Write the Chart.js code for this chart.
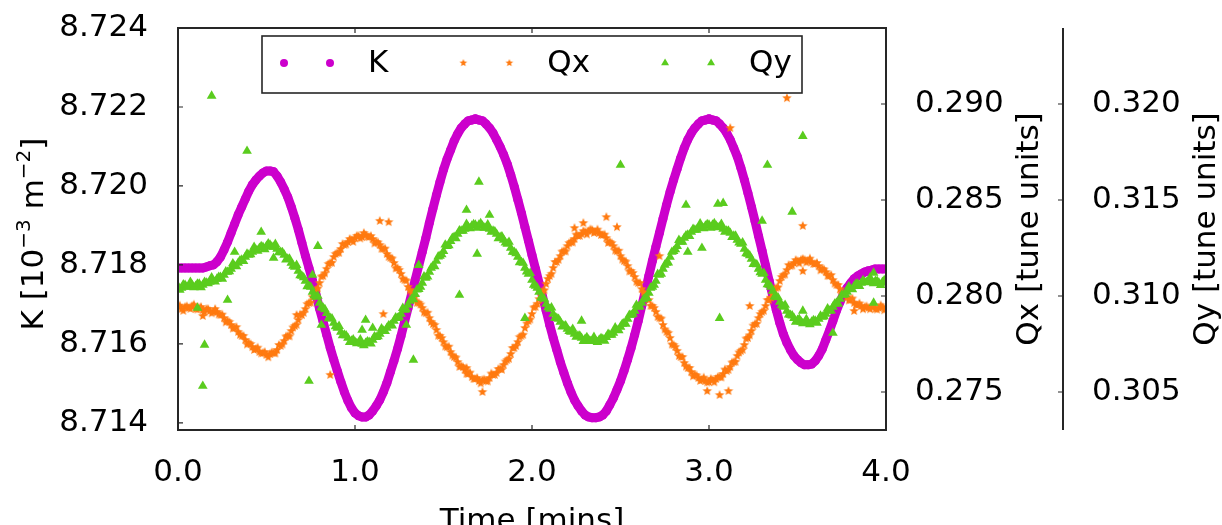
<!DOCTYPE html>
<html lang="en">
<head>
<meta charset="UTF-8">
<title>K, Qx and Qy against time</title>
<style>
  html, body { margin: 0; padding: 0; background: #fff; }
  #wrap { width: 1222px; height: 525px; position: relative; }
</style>
</head>
<body>
<div id="wrap"><canvas id="chart"></canvas></div>
<script src="https://cdn.jsdelivr.net/npm/chart.js@4.4.1/dist/chart.umd.min.js"></script>
<script>
// sample times [mins], one reading every 0.02 min
const times = [
  0.00, 0.02, 0.04, 0.06, 0.08, 0.10, 0.12, 0.14, 0.16, 0.18,
  0.20, 0.22, 0.24, 0.26, 0.28, 0.30, 0.32, 0.34, 0.36, 0.38,
  0.40, 0.42, 0.44, 0.46, 0.48, 0.50, 0.52, 0.54, 0.56, 0.58,
  0.60, 0.62, 0.64, 0.66, 0.68, 0.70, 0.72, 0.74, 0.76, 0.78,
  0.80, 0.82, 0.84, 0.86, 0.88, 0.90, 0.92, 0.94, 0.96, 0.98,
  1.00, 1.02, 1.04, 1.06, 1.08, 1.10, 1.12, 1.14, 1.16, 1.18,
  1.20, 1.22, 1.24, 1.26, 1.28, 1.30, 1.32, 1.34, 1.36, 1.38,
  1.40, 1.42, 1.44, 1.46, 1.48, 1.50, 1.52, 1.54, 1.56, 1.58,
  1.60, 1.62, 1.64, 1.66, 1.68, 1.70, 1.72, 1.74, 1.76, 1.78,
  1.80, 1.82, 1.84, 1.86, 1.88, 1.90, 1.92, 1.94, 1.96, 1.98,
  2.00, 2.02, 2.04, 2.06, 2.08, 2.10, 2.12, 2.14, 2.16, 2.18,
  2.20, 2.22, 2.24, 2.26, 2.28, 2.30, 2.32, 2.34, 2.36, 2.38,
  2.40, 2.42, 2.44, 2.46, 2.48, 2.50, 2.52, 2.54, 2.56, 2.58,
  2.60, 2.62, 2.64, 2.66, 2.68, 2.70, 2.72, 2.74, 2.76, 2.78,
  2.80, 2.82, 2.84, 2.86, 2.88, 2.90, 2.92, 2.94, 2.96, 2.98,
  3.00, 3.02, 3.04, 3.06, 3.08, 3.10, 3.12, 3.14, 3.16, 3.18,
  3.20, 3.22, 3.24, 3.26, 3.28, 3.30, 3.32, 3.34, 3.36, 3.38,
  3.40, 3.42, 3.44, 3.46, 3.48, 3.50, 3.52, 3.54, 3.56, 3.58,
  3.60, 3.62, 3.64, 3.66, 3.68, 3.70, 3.72, 3.74, 3.76, 3.78,
  3.80, 3.82, 3.84, 3.86, 3.88, 3.90, 3.92, 3.94, 3.96, 3.98,
  4.00
];

// tune readings taken in between, at 0.01, 0.03, ... 3.99 min
const midTimes = [
  0.01, 0.03, 0.05, 0.07, 0.09, 0.11, 0.13, 0.15, 0.17, 0.19,
  0.21, 0.23, 0.25, 0.27, 0.29, 0.31, 0.33, 0.35, 0.37, 0.39,
  0.41, 0.43, 0.45, 0.47, 0.49, 0.51, 0.53, 0.55, 0.57, 0.59,
  0.61, 0.63, 0.65, 0.67, 0.69, 0.71, 0.73, 0.75, 0.77, 0.79,
  0.81, 0.83, 0.85, 0.87, 0.89, 0.91, 0.93, 0.95, 0.97, 0.99,
  1.01, 1.03, 1.05, 1.07, 1.09, 1.11, 1.13, 1.15, 1.17, 1.19,
  1.21, 1.23, 1.25, 1.27, 1.29, 1.31, 1.33, 1.35, 1.37, 1.39,
  1.41, 1.43, 1.45, 1.47, 1.49, 1.51, 1.53, 1.55, 1.57, 1.59,
  1.61, 1.63, 1.65, 1.67, 1.69, 1.71, 1.73, 1.75, 1.77, 1.79,
  1.81, 1.83, 1.85, 1.87, 1.89, 1.91, 1.93, 1.95, 1.97, 1.99,
  2.01, 2.03, 2.05, 2.07, 2.09, 2.11, 2.13, 2.15, 2.17, 2.19,
  2.21, 2.23, 2.25, 2.27, 2.29, 2.31, 2.33, 2.35, 2.37, 2.39,
  2.41, 2.43, 2.45, 2.47, 2.49, 2.51, 2.53, 2.55, 2.57, 2.59,
  2.61, 2.63, 2.65, 2.67, 2.69, 2.71, 2.73, 2.75, 2.77, 2.79,
  2.81, 2.83, 2.85, 2.87, 2.89, 2.91, 2.93, 2.95, 2.97, 2.99,
  3.01, 3.03, 3.05, 3.07, 3.09, 3.11, 3.13, 3.15, 3.17, 3.19,
  3.21, 3.23, 3.25, 3.27, 3.29, 3.31, 3.33, 3.35, 3.37, 3.39,
  3.41, 3.43, 3.45, 3.47, 3.49, 3.51, 3.53, 3.55, 3.57, 3.59,
  3.61, 3.63, 3.65, 3.67, 3.69, 3.71, 3.73, 3.75, 3.77, 3.79,
  3.81, 3.83, 3.85, 3.87, 3.89, 3.91, 3.93, 3.95, 3.97, 3.99
];

// K [1e-3 m^-2]
const kValues = [
  8.71792, 8.71792, 8.71792, 8.71792, 8.71792, 8.71792, 8.71792, 8.71792, 8.71795, 8.71798,
  8.71800, 8.71808, 8.71820, 8.71838, 8.71858, 8.71881, 8.71904, 8.71927, 8.71947, 8.71967,
  8.71987, 8.72003, 8.72015, 8.72025, 8.72033, 8.72038, 8.72038, 8.72036, 8.72025, 8.72010,
  8.71992, 8.71972, 8.71947, 8.71919, 8.71889, 8.71856, 8.71823, 8.71792, 8.71760, 8.71724,
  8.71689, 8.71656, 8.71623, 8.71590, 8.71560, 8.71532, 8.71504, 8.71478, 8.71456, 8.71438,
  8.71425, 8.71418, 8.71415, 8.71415, 8.71420, 8.71430, 8.71443, 8.71458, 8.71478, 8.71501,
  8.71529, 8.71557, 8.71587, 8.71620, 8.71656, 8.71691, 8.71727, 8.71762, 8.71798, 8.71833,
  8.71868, 8.71906, 8.71942, 8.71977, 8.72010, 8.72041, 8.72068, 8.72091, 8.72114, 8.72132,
  8.72147, 8.72157, 8.72165, 8.72167, 8.72170, 8.72167, 8.72165, 8.72157, 8.72147, 8.72134,
  8.72117, 8.72099, 8.72079, 8.72056, 8.72028, 8.71998, 8.71965, 8.71932, 8.71896, 8.71861,
  8.71825, 8.71790, 8.71754, 8.71719, 8.71684, 8.71648, 8.71615, 8.71585, 8.71554, 8.71527,
  8.71501, 8.71478, 8.71458, 8.71443, 8.71430, 8.71420, 8.71415, 8.71413, 8.71413, 8.71415,
  8.71420, 8.71430, 8.71446, 8.71463, 8.71484, 8.71506, 8.71532, 8.71560, 8.71590, 8.71623,
  8.71658, 8.71696, 8.71734, 8.71772, 8.71810, 8.71846, 8.71881, 8.71917, 8.71952, 8.71985,
  8.72015, 8.72043, 8.72071, 8.72096, 8.72117, 8.72134, 8.72147, 8.72157, 8.72165, 8.72167,
  8.72170, 8.72167, 8.72165, 8.72157, 8.72147, 8.72134, 8.72117, 8.72096, 8.72074, 8.72046,
  8.72015, 8.71982, 8.71947, 8.71911, 8.71873, 8.71836, 8.71798, 8.71760, 8.71722, 8.71686,
  8.71653, 8.71625, 8.71603, 8.71585, 8.71570, 8.71560, 8.71552, 8.71547, 8.71547, 8.71549,
  8.71557, 8.71570, 8.71587, 8.71610, 8.71633, 8.71658, 8.71684, 8.71706, 8.71727, 8.71742,
  8.71754, 8.71765, 8.71772, 8.71777, 8.71782, 8.71785, 8.71787, 8.71790, 8.71790, 8.71790,
  8.71790
];

// horizontal tune at `times`
const qxValues = [
  0.27948, 0.27932, 0.27943, 0.27938, 0.27948, 0.27932, 0.27938, 0.27927, 0.27932, 0.27922,
  0.27917, 0.27917, 0.27901, 0.27885, 0.27870, 0.27849, 0.27833, 0.27813, 0.27792, 0.27771,
  0.27755, 0.27734, 0.27724, 0.27708, 0.27703, 0.27693, 0.27698, 0.27703, 0.27719, 0.27740,
  0.27766, 0.27792, 0.27818, 0.27844, 0.27875, 0.27901, 0.27932, 0.27964, 0.27995, 0.28031,
  0.28068, 0.28104, 0.28141, 0.28172, 0.28203, 0.28224, 0.28245, 0.28266, 0.28281, 0.28292,
  0.28302, 0.28313, 0.28307, 0.28318, 0.28307, 0.28297, 0.28281, 0.28266, 0.28245, 0.28219,
  0.28198, 0.28172, 0.28146, 0.28115, 0.28083, 0.28047, 0.28021, 0.27995, 0.27964, 0.27938,
  0.27911, 0.27885, 0.27854, 0.27823, 0.27792, 0.27760, 0.27734, 0.27708, 0.27682, 0.27656,
  0.27635, 0.27615, 0.27594, 0.27578, 0.27568, 0.27557, 0.27563, 0.27557, 0.27573, 0.27589,
  0.27599, 0.27620, 0.27641, 0.27667, 0.27698, 0.27729, 0.27760, 0.27792, 0.27833, 0.27870,
  0.27906, 0.27943, 0.27984, 0.28026, 0.28063, 0.28104, 0.28146, 0.28177, 0.28208, 0.28234,
  0.28260, 0.28281, 0.28297, 0.28313, 0.28323, 0.28333, 0.28339, 0.28344, 0.28333, 0.28328,
  0.28318, 0.28302, 0.28281, 0.28260, 0.28234, 0.28208, 0.28182, 0.28156, 0.28130, 0.28099,
  0.28068, 0.28036, 0.28010, 0.27979, 0.27948, 0.27917, 0.27885, 0.27849, 0.27813, 0.27781,
  0.27745, 0.27714, 0.27682, 0.27651, 0.27625, 0.27604, 0.27589, 0.27573, 0.27563, 0.27557,
  0.27552, 0.27563, 0.27568, 0.27578, 0.27594, 0.27609, 0.27630, 0.27656, 0.27688, 0.27714,
  0.27745, 0.27781, 0.27818, 0.27854, 0.27885, 0.27917, 0.27948, 0.27979, 0.28010, 0.28042,
  0.28078, 0.28109, 0.28135, 0.28156, 0.28172, 0.28182, 0.28188, 0.28188, 0.28182, 0.28177,
  0.28167, 0.28156, 0.28141, 0.28125, 0.28104, 0.28083, 0.28057, 0.28036, 0.28016, 0.27995,
  0.27979, 0.27964, 0.27953, 0.27948, 0.27943, 0.27938, 0.27943, 0.27932, 0.27938, 0.27943,
  0.27938
];

// horizontal tune at `midTimes`
const qxMidValues = [
  0.27950, 0.27923, 0.27946, 0.27933, 0.27955, 0.27930, 0.27943, 0.27915, 0.27932, 0.27910,
  0.27932, 0.27904, 0.27903, 0.27863, 0.27865, 0.27831, 0.27838, 0.27798, 0.27792, 0.27748,
  0.27750, 0.27719, 0.27731, 0.27701, 0.27708, 0.27681, 0.27706, 0.27701, 0.27745, 0.27748,
  0.27789, 0.27790, 0.27836, 0.27850, 0.27903, 0.27912, 0.27958, 0.27965, 0.28018, 0.28040,
  0.28101, 0.28118, 0.28167, 0.28173, 0.28219, 0.28225, 0.28271, 0.28269, 0.28297, 0.28282,
  0.28313, 0.28300, 0.28328, 0.28308, 0.28312, 0.28274, 0.28279, 0.28246, 0.28247, 0.28204,
  0.28195, 0.28144, 0.28136, 0.28089, 0.28080, 0.28029, 0.28018, 0.27965, 0.27956, 0.27915,
  0.27913, 0.27865, 0.27849, 0.27793, 0.27781, 0.27737, 0.27736, 0.27690, 0.27679, 0.27631,
  0.27630, 0.27595, 0.27601, 0.27568, 0.27573, 0.27545, 0.27565, 0.27555, 0.27596, 0.27589,
  0.27620, 0.27616, 0.27659, 0.27673, 0.27729, 0.27740, 0.27786, 0.27798, 0.27857, 0.27878,
  0.27940, 0.27959, 0.28015, 0.28030, 0.28089, 0.28115, 0.28177, 0.28188, 0.28231, 0.28232,
  0.28276, 0.28279, 0.28320, 0.28313, 0.28338, 0.28321, 0.28347, 0.28329, 0.28346, 0.28318,
  0.28320, 0.28277, 0.28276, 0.28237, 0.28236, 0.28190, 0.28179, 0.28128, 0.28120, 0.28074,
  0.28067, 0.28018, 0.28005, 0.27949, 0.27938, 0.27891, 0.27882, 0.27826, 0.27807, 0.27748,
  0.27735, 0.27688, 0.27682, 0.27633, 0.27625, 0.27582, 0.27586, 0.27558, 0.27575, 0.27550,
  0.27568, 0.27551, 0.27578, 0.27576, 0.27617, 0.27615, 0.27653, 0.27657, 0.27706, 0.27720,
  0.27778, 0.27795, 0.27846, 0.27855, 0.27906, 0.27923, 0.27979, 0.27990, 0.28036, 0.28045,
  0.28099, 0.28112, 0.28161, 0.28159, 0.28187, 0.28170, 0.28193, 0.28175, 0.28195, 0.28167,
  0.28172, 0.28134, 0.28138, 0.28105, 0.28109, 0.28065, 0.28057, 0.28011, 0.28011, 0.27977,
  0.27987, 0.27954, 0.27961, 0.27931, 0.27946, 0.27931, 0.27953, 0.27930, 0.27951, 0.27926
];

// vertical tune at `times`
const qyValues = [
  0.31052, 0.31042, 0.31057, 0.31047, 0.31057, 0.31052, 0.31063, 0.31057, 0.31068, 0.31073,
  0.31078, 0.31089, 0.31099, 0.31109, 0.31125, 0.31141, 0.31156, 0.31172, 0.31188, 0.31203,
  0.31214, 0.31229, 0.31240, 0.31250, 0.31255, 0.31260, 0.31266, 0.31255, 0.31245, 0.31229,
  0.31214, 0.31193, 0.31172, 0.31151, 0.31130, 0.31104, 0.31078, 0.31052, 0.31021, 0.30995,
  0.30964, 0.30938, 0.30911, 0.30885, 0.30859, 0.30833, 0.30813, 0.30797, 0.30781, 0.30766,
  0.30760, 0.30755, 0.30750, 0.30755, 0.30760, 0.30771, 0.30786, 0.30802, 0.30818, 0.30833,
  0.30849, 0.30870, 0.30885, 0.30906, 0.30927, 0.30953, 0.30984, 0.31010, 0.31036, 0.31068,
  0.31094, 0.31125, 0.31156, 0.31182, 0.31208, 0.31234, 0.31260, 0.31286, 0.31307, 0.31323,
  0.31339, 0.31349, 0.31359, 0.31365, 0.31370, 0.31370, 0.31365, 0.31354, 0.31349, 0.31339,
  0.31323, 0.31307, 0.31292, 0.31271, 0.31250, 0.31229, 0.31203, 0.31177, 0.31146, 0.31115,
  0.31083, 0.31052, 0.31021, 0.30990, 0.30958, 0.30932, 0.30906, 0.30885, 0.30865, 0.30844,
  0.30828, 0.30813, 0.30802, 0.30792, 0.30781, 0.30776, 0.30771, 0.30766, 0.30766, 0.30771,
  0.30776, 0.30786, 0.30797, 0.30807, 0.30823, 0.30839, 0.30859, 0.30880, 0.30901, 0.30922,
  0.30943, 0.30964, 0.30990, 0.31016, 0.31047, 0.31078, 0.31109, 0.31141, 0.31172, 0.31203,
  0.31234, 0.31260, 0.31281, 0.31302, 0.31318, 0.31333, 0.31344, 0.31354, 0.31359, 0.31365,
  0.31370, 0.31370, 0.31365, 0.31359, 0.31349, 0.31339, 0.31328, 0.31313, 0.31292, 0.31271,
  0.31245, 0.31219, 0.31193, 0.31167, 0.31141, 0.31115, 0.31083, 0.31057, 0.31026, 0.30995,
  0.30969, 0.30943, 0.30922, 0.30901, 0.30885, 0.30875, 0.30865, 0.30859, 0.30859, 0.30865,
  0.30870, 0.30880, 0.30891, 0.30906, 0.30922, 0.30943, 0.30964, 0.30984, 0.31005, 0.31021,
  0.31036, 0.31052, 0.31063, 0.31068, 0.31073, 0.31078, 0.31073, 0.31078, 0.31068, 0.31073,
  0.31068
];

// vertical tune at `midTimes`
const qyMidValues = [
  0.31032, 0.31060, 0.31047, 0.31072, 0.31045, 0.31063, 0.31045, 0.31073, 0.31066, 0.31096,
  0.31074, 0.31099, 0.31089, 0.31127, 0.31128, 0.31169, 0.31154, 0.31185, 0.31181, 0.31219,
  0.31217, 0.31255, 0.31235, 0.31258, 0.31243, 0.31273, 0.31256, 0.31270, 0.31227, 0.31227,
  0.31189, 0.31193, 0.31157, 0.31161, 0.31107, 0.31096, 0.31050, 0.31047, 0.31003, 0.31000,
  0.30941, 0.30930, 0.30883, 0.30882, 0.30841, 0.30843, 0.30795, 0.30794, 0.30759, 0.30773,
  0.30753, 0.30773, 0.30743, 0.30763, 0.30751, 0.30789, 0.30789, 0.30830, 0.30816, 0.30846,
  0.30845, 0.30888, 0.30891, 0.30937, 0.30930, 0.30974, 0.30982, 0.31033, 0.31047, 0.31101,
  0.31100, 0.31146, 0.31154, 0.31205, 0.31216, 0.31267, 0.31263, 0.31302, 0.31300, 0.31341,
  0.31339, 0.31374, 0.31352, 0.31373, 0.31355, 0.31378, 0.31355, 0.31372, 0.31334, 0.31336,
  0.31300, 0.31310, 0.31277, 0.31281, 0.31230, 0.31221, 0.31175, 0.31172, 0.31126, 0.31119,
  0.31058, 0.31042, 0.30991, 0.30984, 0.30940, 0.30939, 0.30886, 0.30880, 0.30840, 0.30846,
  0.30816, 0.30828, 0.30787, 0.30792, 0.30764, 0.30784, 0.30764, 0.30786, 0.30759, 0.30779,
  0.30766, 0.30802, 0.30797, 0.30835, 0.30821, 0.30854, 0.30855, 0.30901, 0.30907, 0.30953,
  0.30944, 0.30982, 0.30988, 0.31042, 0.31058, 0.31114, 0.31115, 0.31162, 0.31173, 0.31229,
  0.31242, 0.31291, 0.31282, 0.31315, 0.31311, 0.31349, 0.31344, 0.31377, 0.31352, 0.31373,
  0.31355, 0.31378, 0.31357, 0.31374, 0.31334, 0.31339, 0.31306, 0.31313, 0.31277, 0.31278,
  0.31222, 0.31211, 0.31165, 0.31164, 0.31123, 0.31119, 0.31060, 0.31047, 0.30996, 0.30992,
  0.30951, 0.30953, 0.30902, 0.30898, 0.30865, 0.30880, 0.30857, 0.30879, 0.30852, 0.30873,
  0.30860, 0.30896, 0.30894, 0.30934, 0.30923, 0.30959, 0.30959, 0.31005, 0.31008, 0.31049,
  0.31034, 0.31063, 0.31051, 0.31081, 0.31071, 0.31096, 0.31066, 0.31078, 0.31056, 0.31081
];

// stray tune readings off the main trend
const qxStrayT = [0.14, 0.67, 0.86, 1.14, 1.16, 1.19, 1.63, 1.72, 2.24, 2.29, 2.42, 2.48,
                  2.72, 2.99, 3.06, 3.11, 3.12, 3.23, 3.44, 3.53, 3.53, 3.82];
const qxStrayV = [0.27896, 0.27901, 0.27589, 0.28391, 0.27906, 0.28385, 0.27625, 0.27500, 0.28354, 0.28380, 0.28411, 0.28359,
                  0.28208, 0.27505, 0.27484, 0.27505, 0.28875, 0.27948, 0.29031, 0.28365, 0.28130, 0.27922];
const qyStrayT = [0.11, 0.14, 0.15, 0.19, 0.28, 0.32, 0.39, 0.47, 0.54, 0.74, 0.76, 0.79, 0.81,
                  1.04, 1.06, 1.10, 1.29, 1.33, 1.36, 1.59, 1.63, 1.69, 1.70, 1.76, 1.96, 2.28, 2.50,
                  2.87, 2.88, 2.96, 3.05, 3.06, 3.08, 3.30, 3.33, 3.47, 3.53, 3.53, 3.70, 3.93, 3.93];
const qyStrayV = [0.30938, 0.30531, 0.30745, 0.32042, 0.30979, 0.31229, 0.31755, 0.31333, 0.31198, 0.30557, 0.31109, 0.31260, 0.30849,
                  0.30823, 0.30875, 0.30833, 0.30849, 0.30667, 0.31161, 0.31005, 0.31448, 0.31219, 0.31594, 0.31422, 0.30885, 0.30870, 0.31682,
                  0.31474, 0.31229, 0.31250, 0.31479, 0.30885, 0.31484, 0.31391, 0.31682, 0.31438, 0.31833, 0.30922, 0.30807, 0.31120, 0.30964];

const xTicks = [0, 1, 2, 3, 4];
const kTicks = [8.714, 8.716, 8.718, 8.720, 8.722, 8.724];
const qxTicks = [0.275, 0.280, 0.285, 0.290];
const qyTicks = [0.305, 0.310, 0.315, 0.320];

const kColor = '#cc00cc';
const qxColor = '#ff7a10';
const qyColor = '#5acc1e';
const axisColor = '#262626';
const FONT = 'DejaVu Sans';

const pts = (xs, ys) => xs.map((x, i) => ({ x: x, y: ys[i] }));

// small filled five-point star used as the Qx marker
function makeStar(color, outer, inner) {
  const c = document.createElement('canvas');
  const s = Math.ceil(outer * 2) + 2;
  c.width = c.height = s;
  const g = c.getContext('2d');
  g.fillStyle = color;
  g.beginPath();
  for (let i = 0; i < 10; i++) {
    const r = i % 2 ? inner : outer;
    const a = -Math.PI / 2 + i * Math.PI / 5;
    g.lineTo(s / 2 + r * Math.cos(a), s / 2 + r * Math.sin(a));
  }
  g.closePath();
  g.fill();
  return c;
}
const starImg = makeStar(qxColor, 5, 2.2);
const legendStar = makeStar(qxColor, 4, 1.8);

const fixTicks = list => scale => { scale.ticks = list.map(v => ({ value: v })); };
// fixed axis box sizes, and no extra room reserved for overhanging labels
const fixSize = (w, h) => scale => {
  if (w) scale.width = w;
  if (h) scale.height = h;
  scale.paddingTop = scale.paddingBottom = scale.paddingLeft = scale.paddingRight = 0;
};

const tickFont = { family: FONT, size: 31 };

// inward tick marks, box frame, detached Qy spine, titles and legend
const decorations = {
  id: 'decorations',
  afterDatasetsDraw(chart) {
    const ctx = chart.ctx;
    const a = chart.chartArea;
    const sx = chart.scales.x, sk = chart.scales.yK, sqx = chart.scales.yQx, sqy = chart.scales.yQy;
    const tl = 5;
    ctx.save();
    ctx.strokeStyle = axisColor;
    ctx.lineWidth = 1.2;
    ctx.beginPath();
    xTicks.forEach(v => {
      const px = sx.getPixelForValue(v);
      ctx.moveTo(px, a.bottom); ctx.lineTo(px, a.bottom - tl);
      ctx.moveTo(px, a.top); ctx.lineTo(px, a.top + tl);
    });
    kTicks.forEach(v => {
      const py = sk.getPixelForValue(v);
      ctx.moveTo(a.left, py); ctx.lineTo(a.left + tl, py);
    });
    qxTicks.forEach(v => {
      const py = sqx.getPixelForValue(v);
      ctx.moveTo(a.right, py); ctx.lineTo(a.right - tl, py);
    });
    qyTicks.forEach(v => {
      const py = sqy.getPixelForValue(v);
      ctx.moveTo(sqy.left, py); ctx.lineTo(sqy.left - tl, py);
    });
    ctx.stroke();

    ctx.lineWidth = 2;
    ctx.strokeRect(a.left, a.top, a.right - a.left, a.bottom - a.top);
    ctx.beginPath();
    ctx.moveTo(sqy.left, a.top);
    ctx.lineTo(sqy.left, a.bottom);
    ctx.stroke();

    // axis titles
    ctx.fillStyle = '#000';
    ctx.textBaseline = 'alphabetic';
    ctx.font = '31px "' + FONT + '"';
    ctx.textAlign = 'center';
    ctx.fillText('Time [mins]', (a.left + a.right) / 2, 529.5);

    const midY = (a.top + a.bottom) / 2;
    [[sqx.right - 25, 'Qx [tune units]'], [sqy.right - 7, 'Qy [tune units]']].forEach(([bx, txt]) => {
      ctx.save();
      ctx.translate(bx, midY);
      ctx.rotate(-Math.PI / 2);
      ctx.fillText(txt, 0, 0);
      ctx.restore();
    });

    // K [10^-3 m^-2] with raised exponents
    const parts = [['K [10', 31, 0], ['\u22123', 20, 13], [' m', 31, 0], ['\u22122', 20, 13], [']', 31, 0]];
    let total = 0;
    parts.forEach(p => { ctx.font = p[1] + 'px "' + FONT + '"'; p.push(ctx.measureText(p[0]).width); total += p[3]; });
    ctx.save();
    ctx.translate(sk.left + 43, midY + 5);
    ctx.rotate(-Math.PI / 2);
    ctx.textAlign = 'left';
    let cx = -total / 2;
    parts.forEach(p => {
      ctx.font = p[1] + 'px "' + FONT + '"';
      ctx.fillText(p[0], cx, -p[2]);
      cx += p[3];
    });
    ctx.restore();

    // legend box
    const bx = a.left + 84, by = a.top + 8, bw = 540, bh = 57;
    ctx.fillStyle = '#fff';
    ctx.fillRect(bx, by, bw, bh);
    ctx.lineWidth = 1.6;
    ctx.strokeStyle = axisColor;
    ctx.strokeRect(bx, by, bw, bh);
    ctx.font = '31px "' + FONT + '"';
    ctx.textAlign = 'left';
    ctx.textBaseline = 'middle';
    const ly = by + 27;
    let lx = bx + 22;
    const entries = [['K', 'circle', kColor], ['Qx', 'star', qxColor], ['Qy', 'triangle', qyColor]];
    entries.forEach(([label, shape, color]) => {
      [lx, lx + 46].forEach(mx => {
        ctx.fillStyle = color;
        if (shape === 'circle') {
          ctx.beginPath(); ctx.arc(mx, ly, 4, 0, Math.PI * 2); ctx.fill();
        } else if (shape === 'star') {
          ctx.drawImage(legendStar, mx - legendStar.width / 2, ly - legendStar.height / 2);
        } else {
          const r = 4.6;
          ctx.beginPath();
          for (let i = 0; i < 3; i++) {
            const ang = i * 2 * Math.PI / 3;
            ctx.lineTo(mx + Math.sin(ang) * r, ly - Math.cos(ang) * r);
          }
          ctx.closePath(); ctx.fill();
        }
      });
      ctx.fillStyle = '#000';
      const tx = lx + 46 + 38;
      ctx.fillText(label, tx, ly + 1);
      lx = tx + ctx.measureText(label).width + 75;
    });
    ctx.restore();
  }
};

Chart.defaults.font.family = FONT;
Chart.defaults.color = '#000';

new Chart(document.getElementById('chart'), {
  type: 'scatter',
  data: {
    datasets: [
      {
        label: 'K',
        data: pts(times, kValues),
        yAxisID: 'yK',
        showLine: true,
        borderColor: kColor,
        borderWidth: 9,
        borderJoinStyle: 'round',
        borderCapStyle: 'round',
        pointRadius: 4.5,
        pointBackgroundColor: kColor,
        pointBorderWidth: 0,
        clip: 0,
        order: 3
      },
      {
        label: 'Qx',
        data: pts(times, qxValues).concat(pts(midTimes, qxMidValues), pts(qxStrayT, qxStrayV)),
        yAxisID: 'yQx',
        pointStyle: starImg,
        pointRadius: 5,
        clip: 0,
        order: 2
      },
      {
        label: 'Qy',
        data: pts(times, qyValues).concat(pts(midTimes, qyMidValues), pts(qyStrayT, qyStrayV)),
        yAxisID: 'yQy',
        pointStyle: 'triangle',
        pointRadius: 5.6,
        pointBackgroundColor: qyColor,
        pointBorderWidth: 0,
        clip: 0,
        order: 1
      }
    ]
  },
  options: {
    responsive: true,
    maintainAspectRatio: false,
    animation: false,
    layout: { padding: { top: 28, left: 0, right: 0, bottom: 0 } },
    plugins: { legend: { display: false }, tooltip: { enabled: false } },
    scales: {
      x: {
        type: 'linear',
        position: 'bottom',
        min: 0,
        max: 4,
        afterBuildTicks: fixTicks(xTicks),
        afterFit: fixSize(0, 95),
        ticks: { padding: 24, font: tickFont, color: '#000', callback: v => v.toFixed(1) },
        grid: { display: false, drawTicks: false },
        border: { display: false }
      },
      yK: {
        type: 'linear',
        position: 'left',
        min: 8.71382,
        max: 8.724,
        afterBuildTicks: fixTicks(kTicks),
        afterFit: fixSize(178, 0),
        ticks: { padding: 30, font: tickFont, color: '#000', callback: v => v.toFixed(3) },
        grid: { display: false, drawTicks: false },
        border: { display: false }
      },
      yQx: {
        type: 'linear',
        position: 'right',
        min: 0.27302,
        max: 0.29396,
        afterBuildTicks: fixTicks(qxTicks),
        afterFit: fixSize(177, 0),
        ticks: { padding: 29, font: tickFont, color: '#000', callback: v => v.toFixed(3) },
        grid: { display: false, drawTicks: false },
        border: { display: false }
      },
      yQy: {
        type: 'linear',
        position: 'right',
        min: 0.30302,
        max: 0.32396,
        afterBuildTicks: fixTicks(qyTicks),
        afterFit: fixSize(159, 0),
        ticks: { padding: 29, font: tickFont, color: '#000', callback: v => v.toFixed(3) },
        grid: { display: false, drawTicks: false },
        border: { display: false }
      }
    }
  },
  plugins: [decorations]
});
</script>
</body>
</html>
